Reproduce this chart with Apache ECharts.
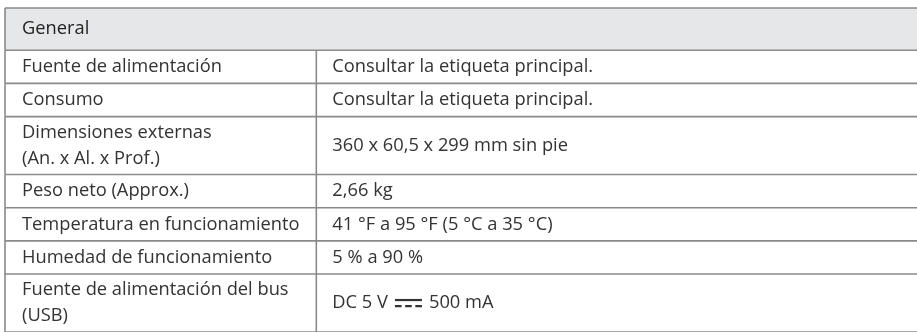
<!DOCTYPE html>
<html>
<head>
<meta charset="utf-8">
<script src="https://cdn.jsdelivr.net/npm/echarts@6/dist/echarts.min.js"></script>
<style>html,body{margin:0;padding:0;background:#fff;}#c{width:917px;height:332px;}</style>
</head>
<body>
<div id="c"></div>
<script>
// ---- content ----
const headerTitle = "General";
const labels = [
  "Fuente de alimentación",
  "Consumo",
  "Dimensiones externas\n(An. x Al. x Prof.)",
  "Peso neto (Approx.)",
  "Temperatura en funcionamiento",
  "Humedad de funcionamiento",
  "Fuente de alimentación del bus\n(USB)"
];
const values = [
  "Consultar la etiqueta principal.",
  "Consultar la etiqueta principal.",
  "360 x 60,5 x 299 mm sin pie",
  "2,66 kg",
  "41 °F a 95 °F (5 °C a 35 °C)",
  "5 % a 90 %",
  "DC 5 V ⎓ 500 mA"
];

// ---- layout / style ----
const L = {left:5, top:8, width:914, split:312, headerH:43, pad:8.6, lineH:25.2,
           padX:17, padX2:16, fontSize:18.3, textLH:26.5};
const FONT_FAMILY = "'Open Sans', sans-serif";
const TEXT_COLOR = "#333333";
const HEADER_TEXT_COLOR = "#222222";
const LINE_COLOR = "#8a8a8a";
const LINE_W = 1.6;
const HEADER_FILL = "#e6e7e8";

const nLines = labels.map((s,i)=>Math.max(s.split('\n').length, values[i].split('\n').length));
const heights = nLines.map(n => L.pad + L.lineH*n);
const tops = [];
let acc = L.headerH;
heights.forEach(h => { tops.push(acc); acc += h; });
const total = acc;

const ctx = document.createElement('canvas').getContext('2d');
ctx.font = L.fontSize + "px " + FONT_FAMILY;
function tw(s){ return ctx.measureText(s).width; }

function line(p0, p1){
  return {type:'line', shape:{x1:p0[0], y1:p0[1], x2:p1[0], y2:p1[1]},
          style:{stroke:LINE_COLOR, lineWidth:LINE_W}};
}
function txt(x, y, s, color){
  return {type:'text', x:x, y:y, style:{text:s, fill:color || TEXT_COLOR, fontSize:L.fontSize,
          fontFamily:FONT_FAMILY, align:'left', verticalAlign:'middle', lineHeight:L.textLH}};
}

function renderItem(params, api){
  const i = api.value(0);
  const children = [];
  if (i < 0) {
    const a = api.coord([0, 0]), b = api.coord([L.width, L.headerH]);
    children.push({type:'rect', shape:{x:a[0], y:a[1], width:b[0]-a[0], height:b[1]-a[1]},
                   style:{fill:HEADER_FILL}});
    children.push(line(a, [b[0], a[1]]));
    children.push(line(a, [a[0], b[1]]));
    children.push(line([a[0], b[1]], b));
    children.push(txt(a[0] + L.padX, (a[1]+b[1])/2, headerTitle, HEADER_TEXT_COLOR));
    return {type:'group', children};
  }
  const y0 = tops[i], y1 = y0 + heights[i];
  const a = api.coord([0, y0]), b = api.coord([L.width, y1]);
  const s = api.coord([L.split, y0]);
  const cy = (a[1] + b[1]) / 2;
  children.push(line([a[0], a[1]], [a[0], b[1]]));
  children.push(line([s[0], a[1]], [s[0], b[1]]));
  children.push(line([a[0], b[1]], [b[0], b[1]]));
  children.push(txt(a[0] + L.padX, cy, labels[i]));
  const v = values[i];
  const x2 = s[0] + L.padX2;
  if (v.indexOf('⎓') >= 0) {
    const parts = v.split('⎓');
    const p1 = parts[0].trim(), p2 = parts[1].trim();
    const w1 = tw(p1);
    children.push(txt(x2, cy, p1));
    const sx = x2 + w1 + 7, sw = 27;
    children.push({type:'line', shape:{x1:sx, y1:cy-3, x2:sx+sw, y2:cy-3},
                   style:{stroke:TEXT_COLOR, lineWidth:2.2}});
    children.push({type:'line', shape:{x1:sx, y1:cy+3, x2:sx+sw, y2:cy+3},
                   style:{stroke:TEXT_COLOR, lineWidth:2.2, lineDash:[6.6,3.6]}});
    children.push(txt(sx + sw + 7, cy, p2));
  } else {
    children.push(txt(x2, cy, v));
  }
  return {type:'group', children};
}

const chart = echarts.init(document.getElementById('c'), null, {renderer:'canvas'});
chart.setOption({
  animation:false,
  grid:{left:L.left, top:L.top, width:L.width, height:total},
  xAxis:{type:'value', min:0, max:L.width, show:false},
  yAxis:{type:'value', min:0, max:total, inverse:true, show:false},
  series:[{
    type:'custom',
    renderItem:renderItem,
    data:[[-1]].concat(labels.map((_,i)=>[i])),
    clip:false,
    silent:true
  }]
});
</script>
</body>
</html>
